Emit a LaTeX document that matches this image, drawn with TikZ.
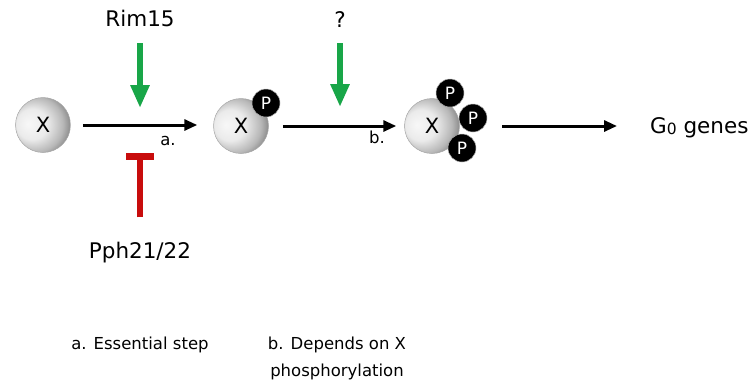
\documentclass[tikz,border=0pt]{standalone}
\usepackage{fontspec}
\setmainfont{DejaVu Sans}
\usetikzlibrary{arrows.meta}

\definecolor{actgreen}{RGB}{24,166,72}
\definecolor{inhred}{RGB}{200,12,12}

% protein sphere: pale on the left, darkening towards the right rim
\pgfdeclareradialshading{xball}{\pgfpoint{-14bp}{1bp}}{%
  color(0bp)=(black!3);
  color(14bp)=(black!8);
  color(25bp)=(black!28);
  color(39bp)=(black!72);
  color(50bp)=(black!72)}

\begin{document}
\begin{tikzpicture}[x=1pt,y=-1pt,
  prot/.style={circle, minimum size=55pt, inner sep=0pt, shading=xball,
    draw=black!35, line width=0.5pt, font=\fontsize{21}{24}\selectfont},
  phos/.style={circle, fill=black, draw=black!30, line width=0.5pt,
    minimum size=28pt, inner sep=0pt,
    text=white, font=\fontsize{17}{18}\selectfont},
  big/.style={inner sep=2pt, font=\fontsize{21.5}{25}\selectfont},
  small/.style={inner sep=0pt, font=\fontsize{16.5}{27}\selectfont},
  flow/.style={-{Triangle[length=13pt,width=11pt]}, line width=3pt},
  act/.style={-{Triangle[length=23pt,width=18pt]}, line width=6pt, actgreen},
  inh/.style={-{Bar[width=28pt]}, line width=6.5pt, inhred}]

\useasboundingbox (0,0) rectangle (754,381);

% proteins and phosphate groups
\node[prot] (x1) at (43,125) {X};
\node[prot] (x2) at (241,126) {X};
\node[phos] (p2) at (266,103) {P};
\node[prot] (x3) at (432,126) {X};
\node[phos] (p3a) at (450,93) {P};
\node[phos] (p3b) at (473,118) {P};
\node[phos] (p3c) at (462,148) {P};

% regulators and output
\node[big, anchor=base] (rim) at (140,26.7) {Rim15};
\node[big, anchor=base] (q) at (340,27) {?};
\node[big, anchor=base] (pph) at (140,258) {Pph21/22};
\node[big, anchor=base west] (g0) at (648,133)
  {G\raisebox{-1pt}{\fontsize{15.5}{16}\selectfont 0} genes};

% step labels
\node[small, anchor=base] (la) at (168,145) {a.};
\node[small, anchor=base] (lb) at (377,143) {b.};
\node[small, anchor=base] (na) at (140,349) {a. Essential step};
\node[small, anchor=base, align=center] (nb) at (337,376)
  {b. Depends on X\\phosphorylation};

% targets of the regulator arrows
\coordinate (t1) at (140,108);
\coordinate (t2) at (340,107);
\coordinate (t3) at (140,153);

% pathway
\draw[flow, shorten <=12pt, shorten >=16pt] (x1.east) -- (x2.west |- x1.east);
\draw[flow, shorten <=14pt, shorten >=8pt] (x2.east) -- (x3.west);
\draw[flow, shorten <=15pt, shorten >=31pt]
  (x3.east -| p3b.east) -- (x3.east -| g0.west);

% activation and inhibition
\draw[act, shorten <=14pt] (rim.south) -- (t1);
\draw[act, shorten <=14pt] (q.south) -- (t2);
\draw[inh, shorten <=22pt] (pph.north) -- (t3);
\end{tikzpicture}
\end{document}
